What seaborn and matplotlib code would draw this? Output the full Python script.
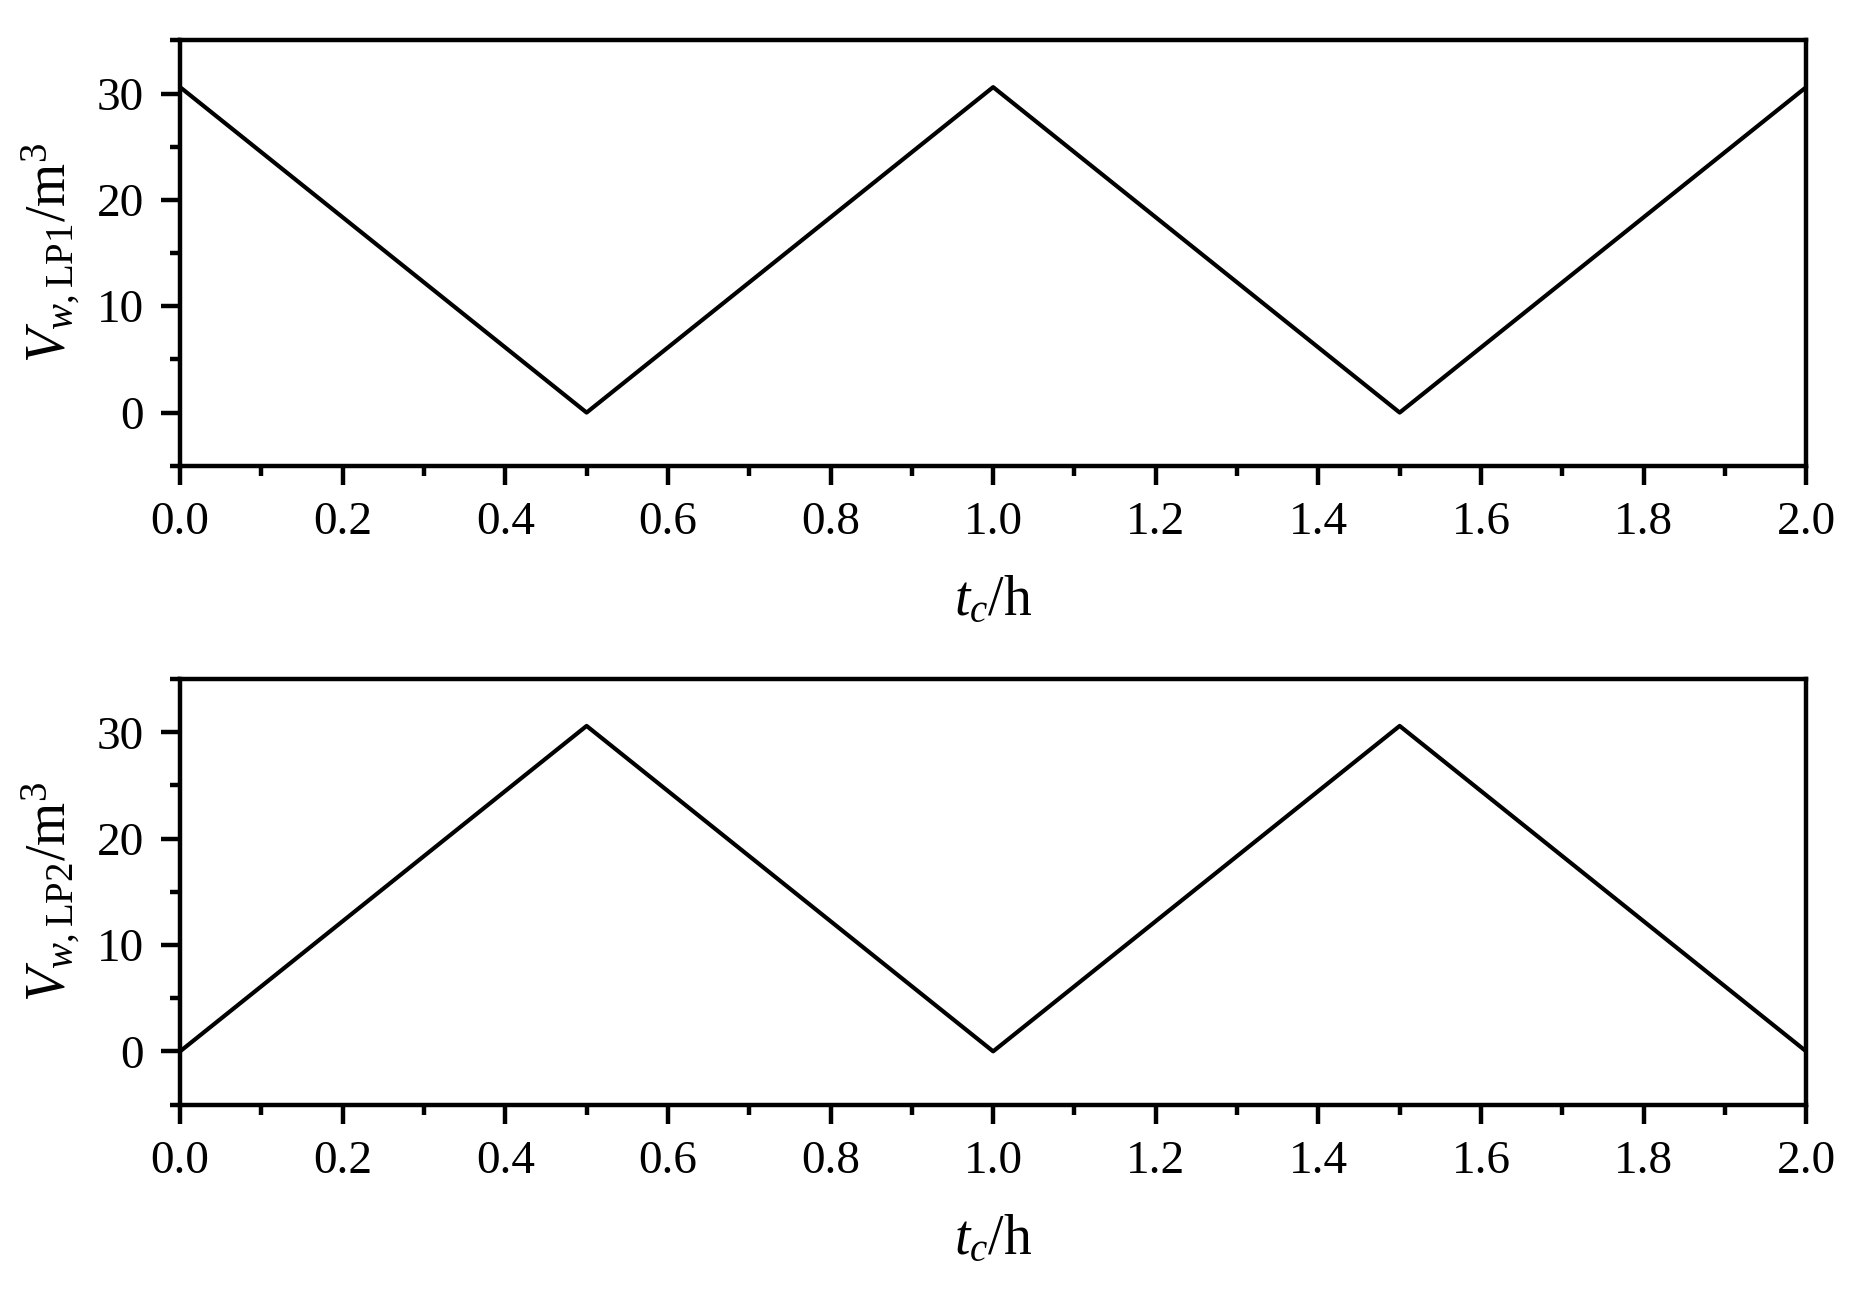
import numpy as np
import pandas as pd
import seaborn as sns
from matplotlib import pyplot as plt
from matplotlib.ticker import MultipleLocator

# time points (h) and stored water volume (m^3)
t_c = [0.0, 0.5, 1.0, 1.5, 2.0]
v_lp1 = [30.6, 0.0, 30.6, 0.0, 30.6]
v_lp2 = [0.0, 30.6, 0.0, 30.6, 0.0]

x_ticks = [0.0, 0.2, 0.4, 0.6, 0.8, 1.0, 1.2, 1.4, 1.6, 1.8, 2.0]
y_ticks = [0, 10, 20, 30]

sns.set_theme()
sns.set_style("ticks")
plt.rcParams['font.family'] = ['Liberation Serif', 'DejaVu Serif']
plt.rcParams['mathtext.fontset'] = 'custom'
plt.rcParams['mathtext.rm'] = 'Liberation Serif'
plt.rcParams['mathtext.it'] = 'Liberation Serif:italic'
plt.rcParams['mathtext.bf'] = 'Liberation Serif:bold'
plt.rcParams['text.color'] = 'black'
plt.rcParams['axes.labelcolor'] = 'black'
plt.rcParams['xtick.color'] = 'black'
plt.rcParams['ytick.color'] = 'black'

fig = plt.figure(figsize=(18.64, 13.01), dpi=100)
ax1 = fig.add_axes([0.0966, 0.642, 0.8724, 0.327])
ax2 = fig.add_axes([0.0966, 0.151, 0.8724, 0.327])

df1 = pd.DataFrame({'t': t_c, 'v': v_lp1})
df2 = pd.DataFrame({'t': t_c, 'v': v_lp2})

for ax, df, name in [(ax1, df1, 'LP1'), (ax2, df2, 'LP2')]:
    sns.lineplot(x='t', y='v', data=df, ax=ax, color='black', linewidth=3.0)
    ax.set_xlim(0, 2.0)
    ax.set_ylim(-5, 35)
    ax.set_xticks(x_ticks)
    ax.set_xticklabels([f'{v:.1f}' for v in x_ticks])
    ax.set_yticks(y_ticks)
    ax.xaxis.set_minor_locator(MultipleLocator(0.1))
    ax.yaxis.set_minor_locator(MultipleLocator(5))
    ax.tick_params(which='major', direction='out', length=14, width=3.2,
                   labelsize=34, colors='black', pad=12)
    ax.tick_params(which='minor', direction='out', length=7, width=3.2, colors='black')
    for sp in ax.spines.values():
        sp.set_visible(True)
        sp.set_linewidth(3.2)
        sp.set_color('black')
    ax.set_xlabel('$t_c$/h', fontsize=40, labelpad=22)
    ax.set_ylabel('$V_{w,\\mathrm{' + name + '}}$/m$^3$', fontsize=40, labelpad=10)
    ax.grid(False)

fig.savefig('out.png', dpi=100)
